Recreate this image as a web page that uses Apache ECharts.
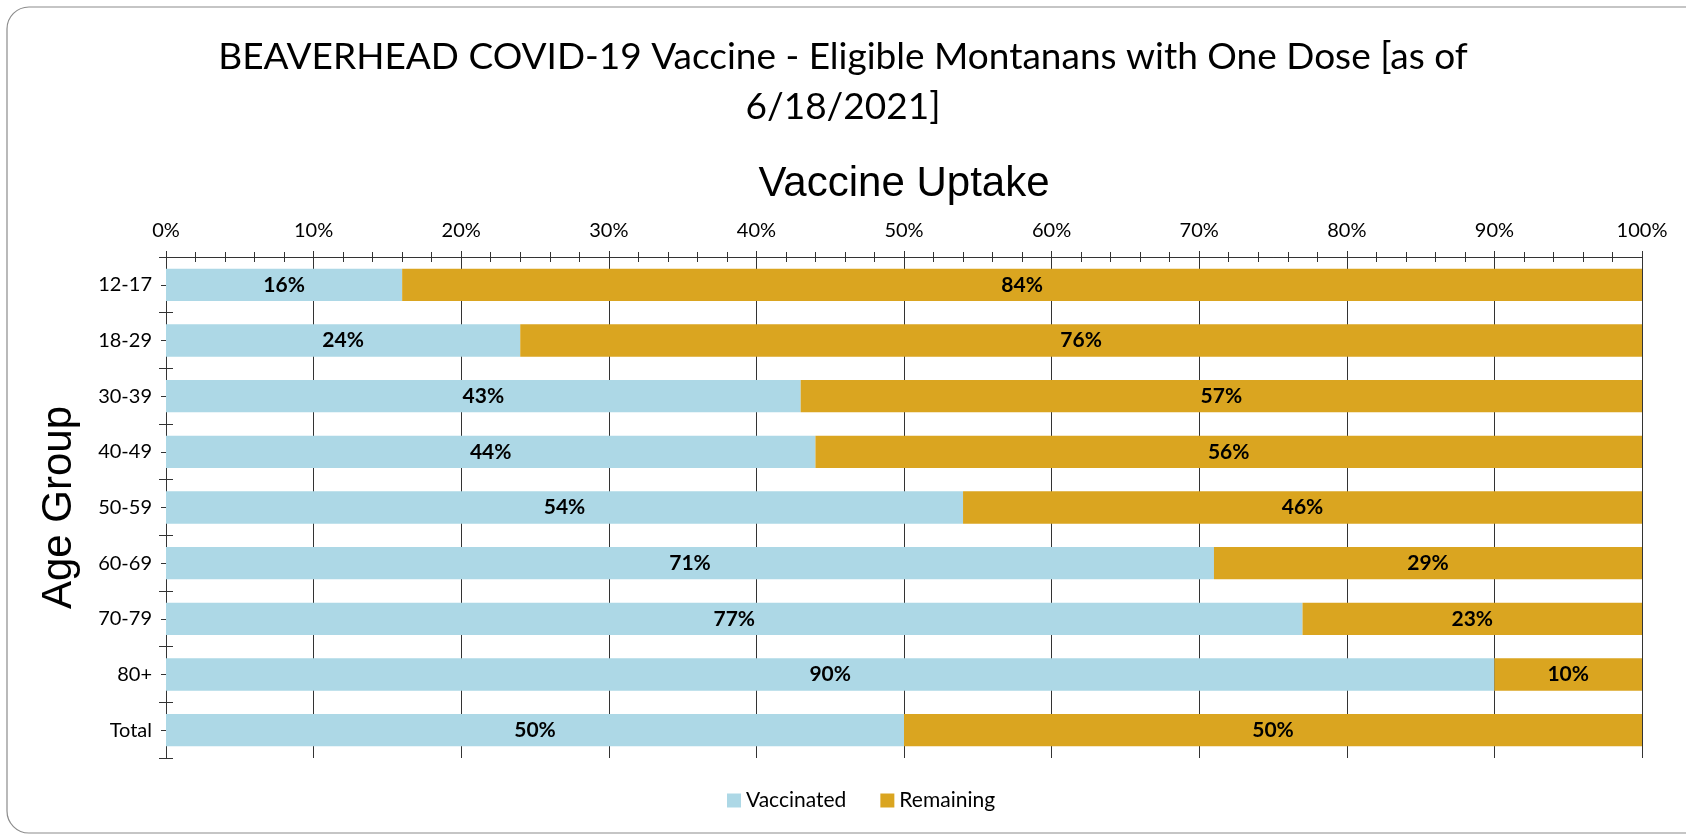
<!DOCTYPE html>
<html>
<head>
<meta charset="utf-8">
<script src="https://cdn.jsdelivr.net/npm/echarts@6/dist/echarts.min.js"></script>
<style>
  html, body { margin: 0; padding: 0; background: #fff; }
  #chart { width: 1686px; height: 836px; }
</style>
</head>
<body>
<div id="chart"></div>
<script>
// data
var ageGroups = ['12-17', '18-29', '30-39', '40-49', '50-59', '60-69', '70-79', '80+', 'Total'];
var vaccinated = [16, 24, 43, 44, 54, 71, 77, 90, 50];
var remaining = [84, 76, 57, 56, 46, 29, 23, 10, 50];

var lineColor = '#333';
var txtFont = 'Lato, "Open Sans", sans-serif';
var nameFont = '"Liberation Sans", Arial, sans-serif';

var myChart = echarts.init(document.getElementById('chart'));

// category axis helper: same categories, different tick style
function catAxis(showLabel, alignMid, inside, len) {
    return {
        type: 'category',
        data: ageGroups,
        inverse: true,
        position: 'left',
        axisLine: { show: true, lineStyle: { color: lineColor, width: 1 } },
        axisTick: { show: true, alignWithLabel: alignMid, inside: inside, length: len, lineStyle: { color: lineColor } },
        axisLabel: { show: showLabel, color: '#000', fontSize: 20, fontFamily: txtFont, margin: 14 },
        splitLine: { show: false }
    };
}

function valAxis(showLabel, inside) {
    return {
        type: 'value',
        position: 'top',
        min: 0,
        max: 100,
        interval: 10,
        axisLine: { show: true, lineStyle: { color: lineColor, width: 1 } },
        axisTick: { show: true, inside: inside, length: 6, lineStyle: { color: lineColor } },
        minorTick: { show: true, splitNumber: 5, length: 5, lineStyle: { color: lineColor } },
        axisLabel: { show: showLabel, formatter: '{value}%', color: '#000', fontSize: 20, fontFamily: txtFont, margin: 16 },
        splitLine: { show: showLabel, lineStyle: { color: lineColor, width: 1 } }
    };
}

var yMain = catAxis(true, false, false, 7);
yMain.name = 'Age Group';
yMain.nameLocation = 'middle';
yMain.nameGap = 86;
yMain.nameTextStyle = { fontFamily: nameFont, fontSize: 42, color: '#000' };

var xMain = valAxis(true, false);
xMain.name = 'Vaccine Uptake';
xMain.nameLocation = 'middle';
xMain.nameGap = 52;
xMain.nameTextStyle = { fontFamily: nameFont, fontSize: 42, color: '#000' };

var barLabel = { show: true, position: 'inside', formatter: '{c}%', color: '#000', fontWeight: 'bold', fontSize: 21, fontFamily: txtFont };

myChart.setOption({
    backgroundColor: '#fff',
    title: {
        text: 'BEAVERHEAD COVID-19 Vaccine - Eligible Montanans with One Dose [as of\n6/18/2021]',
        left: 'center',
        top: 27,
        textStyle: { fontFamily: txtFont, fontWeight: 'normal', fontSize: 37, color: '#000', lineHeight: 50 }
    },
    graphic: [{
        type: 'rect',
        shape: { x: 7, y: 7, width: 1700, height: 826, r: 22 },
        style: { fill: 'none', stroke: '#8c8c8c', lineWidth: 1.2 },
        silent: true
    }],
    legend: {
        bottom: 20,
        left: 722,
        itemWidth: 14,
        itemHeight: 14,
        itemGap: 34,
        icon: 'rect',
        textStyle: { fontFamily: txtFont, fontSize: 21, color: '#000' },
        data: ['Vaccinated', 'Remaining']
    },
    grid: { left: 166, right: 44, top: 257, bottom: 78 },
    xAxis: [xMain, valAxis(false, true)],
    yAxis: [yMain, catAxis(false, false, true, 7), catAxis(false, true, false, 5), catAxis(false, true, true, 5)],
    series: [
        {
            name: 'Vaccinated',
            type: 'bar',
            stack: 'total',
            barCategoryGap: '42%',
            itemStyle: { color: '#ADD8E6' },
            label: barLabel,
            data: vaccinated
        },
        {
            name: 'Remaining',
            type: 'bar',
            stack: 'total',
            barCategoryGap: '42%',
            itemStyle: { color: '#DAA520' },
            label: barLabel,
            data: remaining
        }
    ]
});
</script>
</body>
</html>
